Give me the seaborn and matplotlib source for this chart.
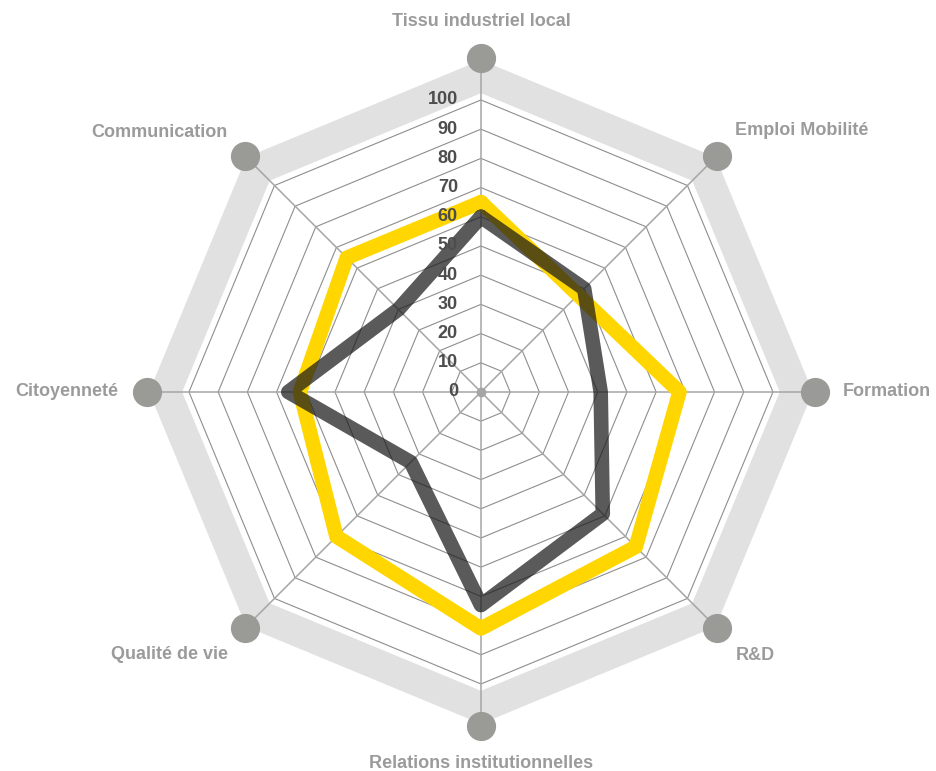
import numpy as np
import matplotlib
matplotlib.use('Agg')
import matplotlib.pyplot as plt
import seaborn as sns

# Axes du radar (sens horaire depuis le haut)
categories = ['Tissu industriel local', 'Emploi Mobilité', 'Formation', 'R&D',
              'Relations institutionnelles', 'Qualité de vie', 'Citoyenneté', 'Communication']
serie_jaune = [65, 47, 68, 75, 81, 70, 62, 65]
serie_grise = [60, 50, 41, 59, 73, 34, 66, 40]
niveaux = [0, 10, 20, 30, 40, 50, 60, 70, 80, 90, 100]

sns.set_theme(style='white')
plt.rcParams['font.family'] = ['Liberation Sans', 'DejaVu Sans']

n = len(categories)
angles = np.linspace(0, 2 * np.pi, n, endpoint=False)
angles_fermes = np.append(angles, angles[0])

fig = plt.figure(figsize=(9.36, 7.71), dpi=100)
ax = fig.add_axes([0.1395, 0.0371, 0.7487, 0.909], projection='polar')
ax.set_theta_offset(np.pi / 2)
ax.set_theta_direction(-1)
ax.set_ylim(0, 120)
ax.grid(False)
ax.set_xticks([])
ax.set_yticks([])
ax.spines['polar'].set_visible(False)
ax.set_facecolor('white')

# bande grise extérieure
ax.plot(angles_fermes, [108] * (n + 1), color='#e1e1e1', lw=22,
        solid_joinstyle='miter', zorder=1)

# octogones de la grille
for niv in niveaux[1:]:
    ax.plot(angles_fermes, [niv] * (n + 1), color='#8e8e8e', lw=0.8, zorder=2)

# rayons
for a in angles:
    ax.plot([a, a], [0, 114.5], color='#a5a5a5', lw=1.1, zorder=2)

# séries (polygones fermés)
ax.plot(angles_fermes, serie_jaune + serie_jaune[:1], color='#ffd600', lw=10.5,
        solid_joinstyle='round', solid_capstyle='round', zorder=3)
ax.plot(angles_fermes, serie_grise + serie_grise[:1], color='#1a1a1a', alpha=0.72,
        lw=10.5, solid_joinstyle='round', solid_capstyle='round', zorder=4)

# points gris aux extrémités et au centre
ax.plot(angles, [114.5] * n, 'o', color='#9a9a96', markersize=20, zorder=5, clip_on=False)
ax.plot([0], [0], 'o', color='#a5a5a5', markersize=6, zorder=5)

# graduations
for niv in niveaux:
    ax.annotate(str(niv), xy=(0, niv), xytext=(-23, 0), textcoords='offset pixels',
                ha='right', va='center', fontsize=13, fontweight='bold',
                color='#4d4d4d', zorder=6)

# libellés des axes
decalages = [(0, 36, 'center'), (18, 25, 'left'), (27, 0, 'left'), (18, -27, 'left'),
             (0, -37, 'center'), (-17, -26, 'right'), (-28, 0, 'right'), (-17, 23, 'right')]
for a, lab, (dx, dy, ha) in zip(angles, categories, decalages):
    ax.annotate(lab, xy=(a, 114.5), xytext=(dx, dy), textcoords='offset pixels',
                ha=ha, va='center', fontsize=13, fontweight='bold',
                color='#9b9b9b', annotation_clip=False)

fig.savefig('out.png', dpi=100, facecolor='white')
